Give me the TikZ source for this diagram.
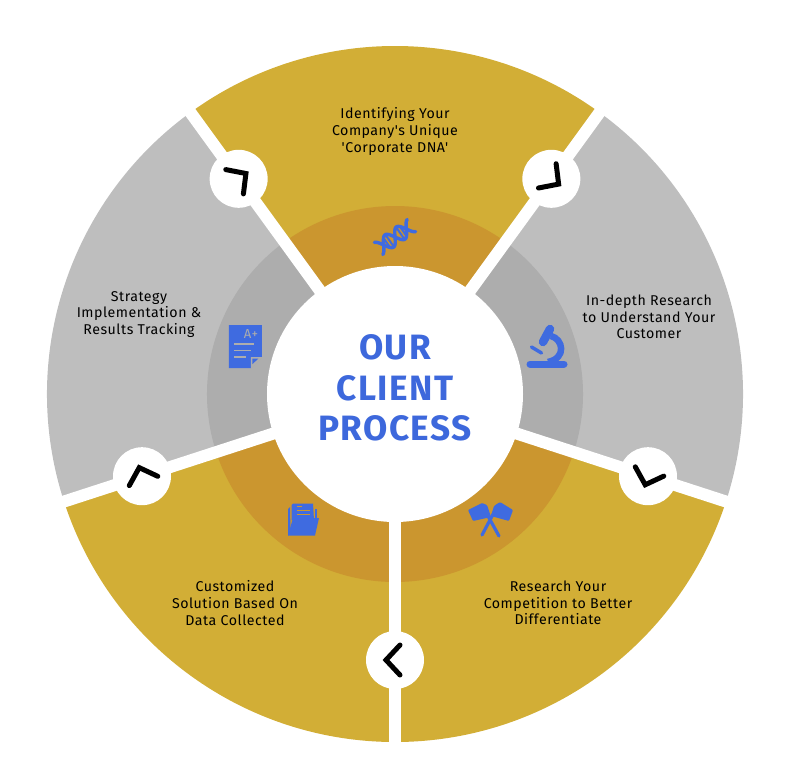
\documentclass[tikz,border=0pt]{standalone}
\usepackage{fontspec}
\newfontfamily\labelfont{Fira Sans}[LetterSpace=3.5]
\newfontfamily\titlefont{Fira Sans}[LetterSpace=4,BoldFont={Fira Sans Bold}]
\definecolor{goldO}{HTML}{D2AE36}
\definecolor{goldI}{HTML}{CB962F}
\definecolor{grayO}{HTML}{BEBEBE}
\definecolor{grayI}{HTML}{ADADAD}
\definecolor{iconblue}{HTML}{3F6BE0}
\definecolor{titleblue}{HTML}{3D68DC}
\tikzset{
  label text/.style={align=center,font=\labelfont\fontsize{14.2}{16.7}\selectfont,text=black,inner sep=0pt},
  title text/.style={font=\titlefont\bfseries\fontsize{35.2}{36}\selectfont,text=titleblue,inner sep=0pt},
  gap line/.style={white,line width=12pt},
  hub/.style={fill=white},
  chevron/.style={black,line width=5pt,line cap=round,line join=miter},
  icon stroke/.style={iconblue,line cap=round},
}
\newcommand{\sector}[3]{%
  \fill[#1] (0,0) -- (#2:348pt) arc[start angle=#2,end angle=#2+72,radius=348pt] -- cycle;
  \fill[#3] (0,0) -- (#2:188pt) arc[start angle=#2,end angle=#2+72,radius=188pt] -- cycle;
}
\begin{document}
\begin{tikzpicture}[x=1pt,y=1pt]
\useasboundingbox (-395,-386) rectangle (396,394);
\sector{goldO}{54}{goldI}
\sector{grayO}{126}{grayI}
\sector{goldO}{198}{goldI}
\sector{goldO}{270}{goldI}
\sector{grayO}{342}{grayI}
\foreach \a in {54,126,198,270,342}{
  \draw[gap line] (0,0) -- (\a:352pt);
  \fill[white] (\a:266pt) circle[radius=29pt];
  \draw[chevron,shift={(\a:266pt)},rotate=\a-270] (5,15) -- (-9,0) -- (5,-15);
}
\fill[hub] (0,0) circle[radius=128pt];
\node[title text] (t1) at (0,47) {OUR};
\node[title text] (t2) at (0,6) {CLIENT};
\node[title text] (t3) at (0,-34) {PROCESS};
\node[label text] (top) at (0,262.5) {Identifying Your\\Company's Unique\\'Corporate DNA'};
\node[label text] (right) at (254,77) {In-depth Research\\to Understand Your\\Customer};
\node[label text] (left) at (-256,79.5) {Strategy\\Implementation \&\\Results Tracking};
\node[label text] (br) at (163,-209) {Research Your\\Competition to Better\\Differentiate};
\node[label text] (bl) at (-160,-209) {Customized\\Solution Based On\\Data Collected};
% DNA
\begin{scope}[shift={(0,157)},rotate=35]
  \draw[icon stroke,line width=3.4pt] plot[domain=-20:20,samples=40,smooth] (\x,{7.5*sin(\x*13)});
  \draw[icon stroke,line width=3.4pt] plot[domain=-20:20,samples=40,smooth] (\x,{-7.5*sin(\x*13)});
  \foreach \p in {-10,-6.5,6.5,10}{\draw[iconblue,line width=2pt] (\p,{7*sin(\p*13)}) -- (\p,{-7*sin(\p*13)});}
\end{scope}
% image-coordinate icons
\begin{scope}[shift={(-395pt,394pt)},x=1pt,y=-1pt]
  % document
  \fill[iconblue] (229,325) -- (262,325) -- (262,357) -- (251,368) -- (229,368) -- cycle;
  \fill[grayI] (262.5,357) -- (251,357) -- (251,368.5) -- cycle;
  \fill[iconblue] (252.5,358.5) -- (258.5,358.5) -- (252.5,364) -- cycle;
  \draw[grayI,line width=1.3pt] (234.5,344) -- (254,344) (234.5,350.5) -- (251,350.5) (234.5,357) -- (246.5,357);
  \node[text=grayI,font=\labelfont\fontsize{13}{13}\selectfont,inner sep=0pt] (docgrade) at (251,334) {A+};
  % microscope
  \draw[icon stroke,line width=7pt] (530,364) -- (564,364);
  \draw[icon stroke,line width=8.5pt] (550,329) -- (543,342);
  \draw[icon stroke,line width=3.5pt] (531.5,347) -- (541.5,353);
  \draw[iconblue,line width=6.5pt] (551,336) .. controls (563,339) and (567,358) .. (548,362);
  % flags
  \draw[icon stroke,line width=3.2pt] (482,535) -- (498,505) (499,536) -- (483,507);
  \fill[iconblue,rounded corners=1pt] (468,510) -- (482,503) -- (487,505) -- (491,517) -- (473,521) -- cycle;
  \fill[iconblue,rounded corners=1pt] (513,510) -- (500,502) -- (494,506) -- (491,516) -- (509,521) -- cycle;
  % folder
  \fill[iconblue] (288,509) -- (290,507) -- (290.5,530) -- (288,536) -- cycle;
  \fill[iconblue] (291.5,505) -- (293,503.5) -- (313,503.5) -- (314,520) -- (291.5,520) -- cycle;
  \draw[goldI,line width=.9pt] (297,510) -- (310,510) (297,514) -- (310,514) (297,506.5) -- (302,506.5);
  \fill[iconblue] (315.3,509) -- (316.8,509) -- (316.8,520) -- (315.3,520) -- cycle;
  \fill[iconblue] (293,518) -- (319,518) -- (315,535.5) -- (288,535.5) -- cycle;
\end{scope}
\end{tikzpicture}
\end{document}
